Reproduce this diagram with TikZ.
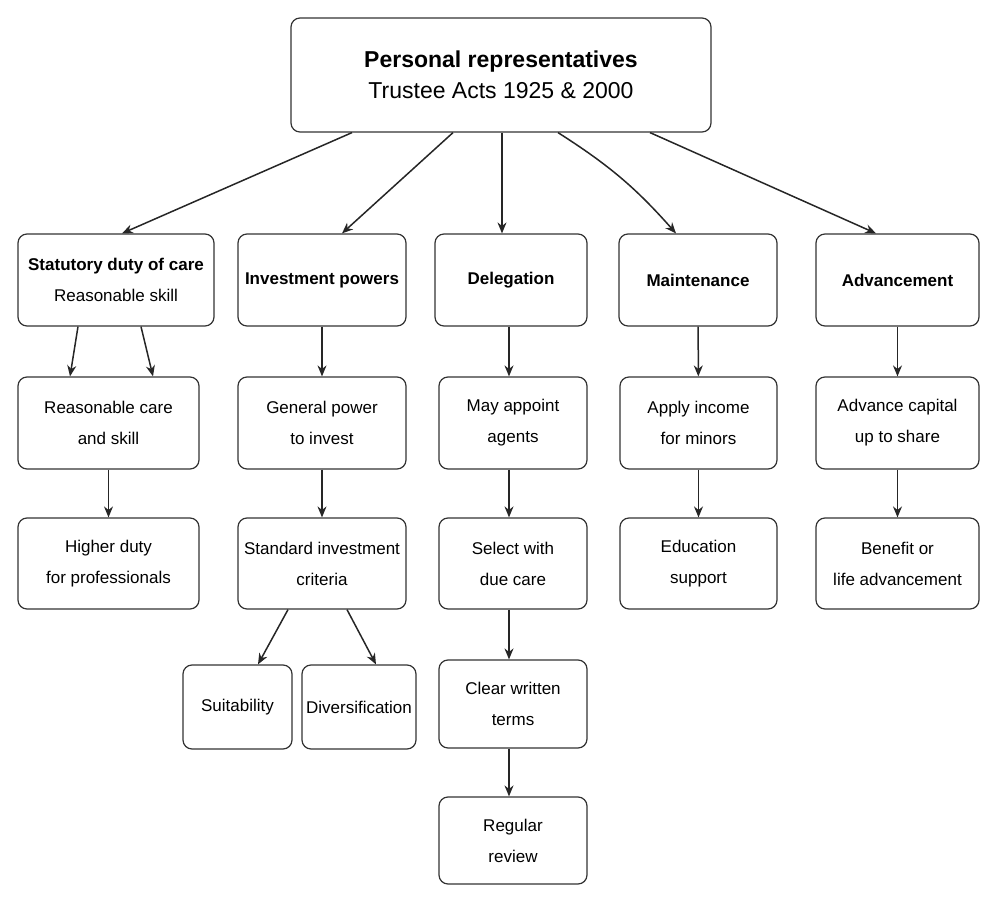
\documentclass[tikz,border=0pt]{standalone}
\usepackage{fontspec}
\setmainfont{Liberation Sans}
\usetikzlibrary{arrows.meta}
\begin{document}
\begin{tikzpicture}[x=1pt,y=-1pt,
  bx/.style={draw=black!80,line width=1.2pt,rounded corners=9pt,align=center,inner sep=0pt,font=\fontsize{17}{31}\selectfont},
  ar/.style={-{Stealth[length=11pt,width=9pt]},line width=1.5pt,black!85}]
\useasboundingbox (0,0) rectangle (997,902);
\newcommand{\bxn}[6]{\node[bx,minimum width=#4-#2,minimum height=#5-#3] (#1) at ({(#2+#4)/2},{(#3+#5)/2}) {#6};}
\bxn{top}{291}{18}{711}{132}{\fontsize{23}{41}\selectfont\textbf{Personal representatives}\\\fontsize{23}{41}\selectfont Trustee Acts 1925 \& 2000}
\bxn{a}{18}{234}{214}{326}{\textbf{Statutory duty of care}\\Reasonable skill}
\bxn{b}{238}{234}{406}{326}{\textbf{Investment powers}}
\bxn{c}{435}{234}{587}{326}{\textbf{Delegation}}
\bxn{d}{619}{234}{777}{326}{\textbf{Maintenance}}
\bxn{e}{816}{234}{979}{326}{\textbf{Advancement}}
\bxn{a2}{18}{377}{199}{469}{Reasonable care\\and skill}
\bxn{b2}{238}{377}{406}{469}{General power\\to invest}
\bxn{c2}{439}{377}{587}{469}{May appoint\\agents}
\bxn{d2}{620}{377}{777}{469}{Apply income\\for minors}
\bxn{e2}{816}{377}{979}{469}{Advance capital\\up to share}
\bxn{a3}{18}{518}{199}{609}{Higher duty\\for professionals}
\bxn{b3}{238}{518}{406}{609}{Standard investment\\criteria}
\bxn{c3}{439}{518}{587}{609}{Select with\\due care}
\bxn{d3}{620}{518}{777}{609}{Education\\support}
\bxn{e3}{816}{518}{979}{609}{Benefit or\\life advancement}
\bxn{s}{183}{665}{292}{749}{Suitability}
\bxn{v}{302}{665}{416}{749}{Diversification}
\bxn{c4}{439}{660}{587}{748}{Clear written\\terms}
\bxn{c5}{439}{797}{587}{884}{Regular\\review}
\draw[ar] (top.south -| 352,0) -- (a.north -| 122,0);
\draw[ar] (top.south -| 453,0) -- (b.north -| 342,0);
\draw[ar] (top.south -| 502,0) -- (c.north -| 502,0);
\draw[ar] (top.south -| 558,0) to[bend left=8] (d.north -| 676,0);
\draw[ar] (top.south -| 650,0) -- (e.north -| 876,0);
\draw[ar] (a.south -| 78,0) -- (a2.north -| 70,0);
\draw[ar] (a.south -| 141,0) -- (a2.north -| 153,0);
\draw[ar] (a2) -- (a3);
\draw[ar] (b) -- (b2); \draw[ar] (b2) -- (b3);
\draw[ar] (b3.south -| 288,0) -- (s.north -| 258,0);
\draw[ar] (b3.south -| 347,0) -- (v.north -| 376,0);
\draw[ar] (c.south -| 509,0) -- (c2.north -| 509,0);
\draw[ar] (c2.south -| 509,0) -- (c3.north -| 509,0);
\draw[ar] (c3.south -| 509,0) -- (c4.north -| 509,0);
\draw[ar] (c4.south -| 509,0) -- (c5.north -| 509,0);
\draw[ar] (d) -- (d2); \draw[ar] (d2) -- (d3);
\draw[ar] (e) -- (e2); \draw[ar] (e2) -- (e3);
\end{tikzpicture}
\end{document}
